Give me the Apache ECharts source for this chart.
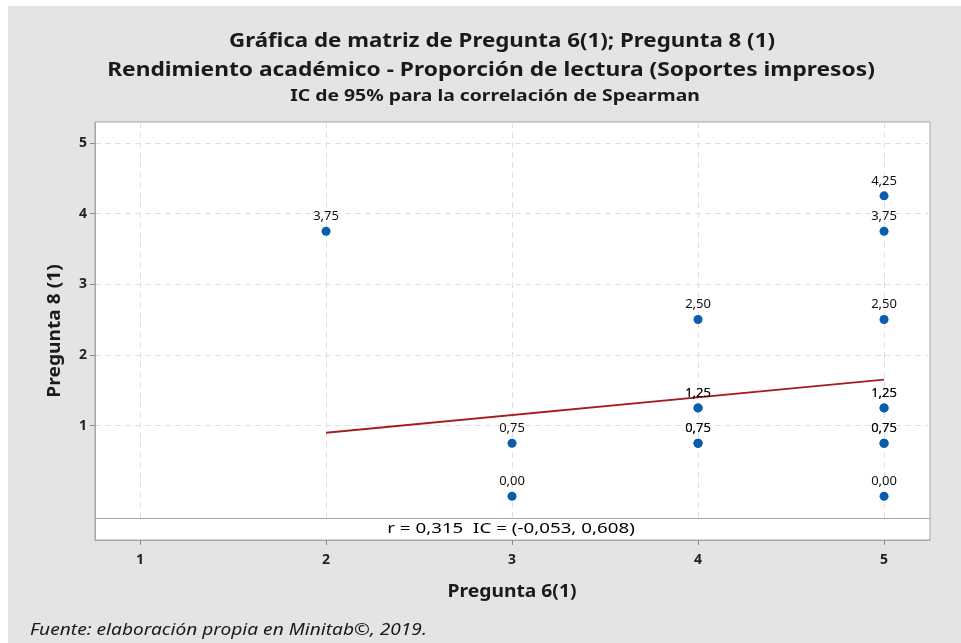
<!DOCTYPE html>
<html>
<head>
<meta charset="utf-8">
<script src="https://cdn.jsdelivr.net/npm/echarts@6/dist/echarts.min.js"></script>
<style>
  html, body { margin: 0; padding: 0; background: #fff; }
  #chart { position: absolute; left: 8px; top: 6px; width: 953px; height: 637px; background: #e4e4e4; }
</style>
</head>
<body>
<div id="chart"></div>
<script>
// Data
const pregunta6 = [2, 3, 3, 4, 4, 4, 4, 4, 5, 5, 5, 5, 5, 5, 5, 5];
const pregunta8 = [3.75, 0.75, 0.00, 2.50, 1.25, 1.25, 0.75, 0.75, 4.25, 3.75, 2.50, 1.25, 1.25, 0.75, 0.75, 0.00];
const fitX = [2, 5];
const fitY = [0.9, 1.65];
const xTicks = [1, 2, 3, 4, 5];
const yTicks = [1, 2, 3, 4, 5];

const chart = echarts.init(document.getElementById('chart'));
const font = '"Noto Sans"';
const fmt = v => v.toFixed(2).replace('.', ',');

// page coords -> container coords
const OX = 8, OY = 6;
const gLeft = 95 - OX, gTop = 122 - OY, gRight = 961 - 930, gBottom = 643 - 540;

// stretched text, placed by its centre in page coords
function label(text, cx, cy, css, sx, opts) {
    opts = opts || {};
    return {
        type: 'text', z: 110, x: cx - OX, y: cy - OY, scaleX: sx, rotation: opts.rotation || 0,
        style: { text: text, x: 0, y: 0, font: css, fill: opts.color || '#1a1a1a',
                 textAlign: opts.align || 'center', textVerticalAlign: 'middle' }
    };
}

const option = {
    backgroundColor: '#e4e4e4',
    textStyle: { fontFamily: 'Noto Sans' },
    grid: {
        left: gLeft, top: gTop, right: gRight, bottom: gBottom,
        show: true, backgroundColor: '#fff', borderColor: '#a6a6a6', borderWidth: 1
    },
    xAxis: {
        type: 'value', min: 0.758, max: 5.247,
        axisLine: { show: true, onZero: false, lineStyle: { color: '#a6a6a6' } },
        axisTick: { show: true, customValues: xTicks, length: 5, lineStyle: { color: '#8a8a8a' } },
        axisLabel: { customValues: xTicks, fontSize: 14, color: '#222', margin: 13, fontWeight: 'bold' },
        splitLine: { show: true, lineStyle: { color: '#e0e0e0', type: [6, 4], width: 1 } }
    },
    yAxis: {
        type: 'value', min: -0.619, max: 5.295,
        axisLine: { show: true, onZero: false, lineStyle: { color: '#a6a6a6' } },
        axisTick: { show: true, customValues: yTicks, length: 5, lineStyle: { color: '#8a8a8a' } },
        axisLabel: { customValues: yTicks, fontSize: 14, color: '#222', margin: 8, fontWeight: 'bold' },
        splitLine: { show: true, lineStyle: { color: '#e0e0e0', type: [6, 4], width: 1 } }
    },
    series: [
        {
            type: 'line',
            data: fitX.map((x, i) => [x, fitY[i]]),
            symbol: 'none',
            lineStyle: { color: '#a31f1f', width: 2 },
            z: 2
        },
        {
            type: 'scatter',
            data: pregunta6.map((x, i) => [x, pregunta8[i]]),
            symbol: 'circle', symbolSize: 9,
            itemStyle: { color: '#0a5cad', opacity: 1 },
            label: {
                show: true, position: 'top', distance: 4,
                formatter: p => fmt(p.value[1]),
                fontFamily: 'Noto Sans', fontSize: 13, color: '#111'
            },
            z: 3
        }
    ],
    graphic: [
        // r / IC strip at the bottom of the data region
        { type: 'rect', z: 100,
          shape: { x: 95 - OX + 1, y: 518 - OY, width: 835 - 2, height: 540 - 518 - 1 },
          style: { fill: '#fff', stroke: null } },
        { type: 'line', z: 101,
          shape: { x1: 95 - OX, y1: 518 - OY + 0.5, x2: 930 - OX, y2: 518 - OY + 0.5 },
          style: { stroke: '#a6a6a6', lineWidth: 1 } },
        label('r = 0,315  IC = (-0,053, 0,608)', 511, 529, '15px ' + font, 1.25, { color: '#000' }),
        // titles
        label('Gráfica de matriz de Pregunta 6(1); Pregunta 8 (1)', 502, 41, 'bold 20px ' + font, 1.115),
        label('Rendimiento académico - Proporción de lectura (Soportes impresos)', 491, 70, 'bold 20px ' + font, 1.137),
        label('IC de 95% para la correlación de Spearman', 495, 96, 'bold 16px ' + font, 1.21),
        // axis names
        label('Pregunta 6(1)', 512, 592, 'bold 18px ' + font, 1.07),
        label('Pregunta 8 (1)', 55, 331, 'bold 18px ' + font, 1.065, { rotation: Math.PI / 2 }),
        // source note
        label('Fuente: elaboración propia en Minitab©, 2019.', 30, 630, 'italic 16px ' + font, 1.195, { align: 'left' })
    ]
};
chart.setOption(option);
</script>
</body>
</html>
